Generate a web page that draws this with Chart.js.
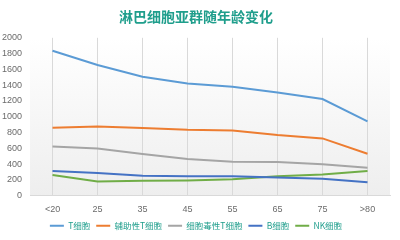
<!DOCTYPE html>
<html>
<head>
<meta charset="utf-8">
<script src="https://cdn.jsdelivr.net/npm/chart.js@4"></script>
<style>
  html, body { margin: 0; padding: 0; background: #fff; }
  #wrap { width: 400px; height: 240px; }
</style>
</head>
<body>
<div id="wrap"><canvas id="age-chart"></canvas></div>
<script>
const ages = ['<20', '25', '35', '45', '55', '65', '75', '>80'];
const tCells = [1835, 1655, 1506, 1422, 1380, 1308, 1224, 941];
const helperT = [861, 877, 857, 835, 827, 768, 726, 532];
const cytotoxicT = [624, 599, 528, 464, 430, 426, 397, 354];
const bCells = [312, 287, 253, 245, 245, 232, 215, 169];
const nkCells = [262, 181, 190, 194, 207, 245, 270, 312];

const teal = '#1f9e8c';

// faint grey wash behind the plot, like the original
const plotBg = {
  id: 'plotBg',
  beforeDraw(chart) {
    const { ctx, chartArea: a } = chart;
    const g = ctx.createLinearGradient(0, a.top, 0, a.bottom);
    g.addColorStop(0, 'rgba(255,255,255,1)');
    g.addColorStop(1, 'rgba(238,238,238,1)');
    ctx.save();
    ctx.fillStyle = g;
    ctx.fillRect(a.left, a.top, a.right - a.left, a.bottom - a.top);
    ctx.restore();
  }
};

function line(label, data, color) {
  return {
    label: label,
    data: data,
    borderColor: color,
    backgroundColor: color,
    borderWidth: 2,
    pointRadius: 0,
    tension: 0,
    fill: false
  };
}

const ageChart = new Chart(document.getElementById('age-chart'), {
  type: 'line',
  data: {
    labels: ages,
    datasets: [
      line('T细胞', tCells, '#5b9bd5'),
      line('辅助性T细胞', helperT, '#ed7d31'),
      line('细胞毒性T细胞', cytotoxicT, '#a5a5a5'),
      line('B细胞', bCells, '#4472c4'),
      line('NK细胞', nkCells, '#70ad47')
    ]
  },
  options: {
    responsive: true,
    maintainAspectRatio: false,
    animation: false,
    layout: { padding: { left: 2, right: 10, top: 4, bottom: 0 } },
    plugins: {
      title: {
        display: true,
        text: '淋巴细胞亚群随年龄变化',
        color: teal,
        font: { family: '"Noto Sans CJK SC", sans-serif', size: 14, weight: 'bold' },
        padding: { top: 4, bottom: 13 }
      },
      legend: {
        position: 'bottom',
        labels: {
          usePointStyle: true,
          pointStyle: 'line',
          pointStyleWidth: 14,
          color: teal,
          boxHeight: 2,
          padding: 6,
          font: { family: '"Noto Sans CJK SC", sans-serif', size: 8.5 }
        }
      },
      tooltip: { enabled: false }
    },
    scales: {
      x: {
        offset: true,
        grid: { offset: false, color: '#d9d9d9', drawTicks: false },
        border: { color: '#d9d9d9' },
        ticks: { color: '#6b6b6b', padding: 8, font: { family: 'Liberation Sans, sans-serif', size: 9 } },
        afterFit: scale => { scale.height -= 7; }
      },
      y: {
        min: 0,
        max: 2000,
        grid: { display: false },
        border: { display: false },
        ticks: {
          stepSize: 200,
          color: '#6b6b6b',
          padding: 0,
          font: { family: 'Liberation Sans, sans-serif', size: 9 },
          callback: v => String(v)
        }
      }
    }
  },
  plugins: [plotBg]
});
</script>
</body>
</html>
